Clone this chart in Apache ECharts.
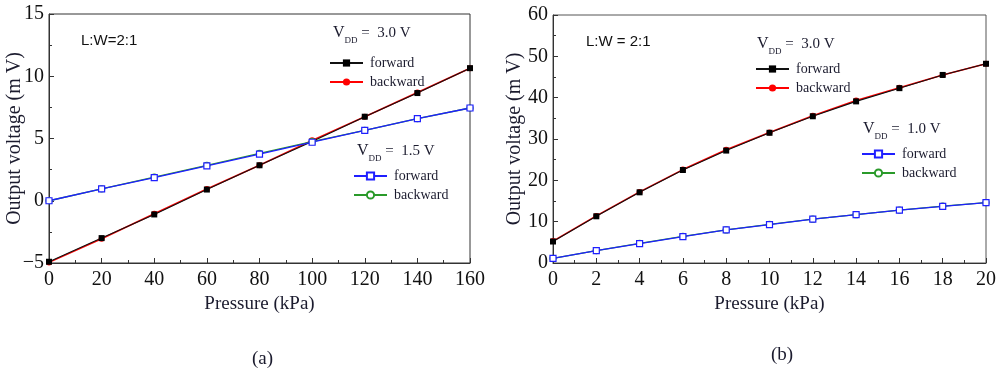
<!DOCTYPE html>
<html><head><meta charset="utf-8">
<script src="https://cdn.jsdelivr.net/npm/echarts@6/dist/echarts.min.js"></script>
<style>html,body{margin:0;padding:0;background:#fff}#c{width:1000px;height:374px}</style>
</head><body><div id="c"></div>
<script>
// ---- data ----
const xPressureA = [0, 20, 40, 60, 80, 100, 120, 140, 160];
const a30Forward = [-4.9, -3.0, -1.1, 0.9, 2.85, 4.75, 6.75, 8.65, 10.65];
const a30Backward = [-4.95, -3.05, -1.05, 0.95, 2.85, 4.85, 6.75, 8.7, 10.65];
const a15Forward = [0.0, 0.95, 1.85, 2.8, 3.75, 4.7, 5.65, 6.6, 7.45];
const a15Backward = [0.0, 0.95, 1.9, 2.85, 3.8, 4.75, 5.65, 6.6, 7.45];

const xPressureB = [0, 2, 4, 6, 8, 10, 12, 14, 16, 18, 20];
const b30Forward = [5.2, 11.3, 17.1, 22.5, 27.2, 31.5, 35.5, 39.1, 42.3, 45.5, 48.2];
const b30Backward = [5.3, 11.4, 17.2, 22.6, 27.4, 31.6, 35.6, 39.3, 42.4, 45.5, 48.2];
const b10Forward = [1.1, 3.0, 4.7, 6.4, 8.0, 9.3, 10.6, 11.7, 12.8, 13.7, 14.6];
const b10Backward = [1.1, 3.0, 4.75, 6.45, 8.0, 9.35, 10.6, 11.7, 12.8, 13.75, 14.6];

const legendLabels = ['forward', 'backward'];
const vddA = ['3.0 V', '1.5 V'];
const vddB = ['3.0 V', '1.0 V'];

// ---- build ----
const pairs = (xs, ys) => xs.map((x, i) => [x, ys[i]]);
const SERIF = 'Liberation Serif, Times New Roman, serif';
const SANS = 'Liberation Sans, Arial, sans-serif';
const TXT = '#1b1b2e';

function mk(name, xs, ys, gi, kind) {
  const st = {
    blackSq: {symbol: 'rect', size: 6, item: {color: '#000'}, line: {color: '#111', width: 1.1}},
    redCi: {symbol: 'circle', size: 6, item: {color: '#ff0000'}, line: {color: '#ff0000', width: 1.6}},
    blueSq: {symbol: 'rect', size: 6, item: {color: '#fff', borderColor: '#1f1fff', borderWidth: 1.2}, line: {color: '#1f1fff', width: 1.3}},
    greenCi: {symbol: 'circle', size: 6, item: {color: '#fff', borderColor: '#2a9a2a', borderWidth: 1.2}, line: {color: '#2a9a2a', width: 1.3}}
  }[kind];
  return {
    name, type: 'line', xAxisIndex: gi, yAxisIndex: gi,
    data: pairs(xs, ys), symbol: st.symbol, symbolSize: st.size,
    itemStyle: st.item, lineStyle: st.line, showSymbol: true, animation: false
  };
}

const series = [
  mk('backward|a30', xPressureA, a30Backward, 0, 'redCi'),
  mk('forward|a30', xPressureA, a30Forward, 0, 'blackSq'),
  mk('backward|a15', xPressureA, a15Backward, 0, 'greenCi'),
  mk('forward|a15', xPressureA, a15Forward, 0, 'blueSq'),
  mk('backward|b30', xPressureB, b30Backward, 1, 'redCi'),
  mk('forward|b30', xPressureB, b30Forward, 1, 'blackSq'),
  mk('backward|b10', xPressureB, b10Backward, 1, 'greenCi'),
  mk('forward|b10', xPressureB, b10Forward, 1, 'blueSq')
];

function legend(tag, left, top) {
  return {
    data: legendLabels.map(l => l + '|' + tag), orient: 'vertical', left, top,
    padding: 0, itemWidth: 33, itemHeight: 9, itemGap: 5,
    formatter: n => n.split('|')[0], selectedMode: false,
    textStyle: {fontFamily: SERIF, fontSize: 14, color: TXT, padding: [0, 0, 0, 2]}
  };
}

function vddText(x, y, val) {
  return {
    type: 'text', left: x, top: y,
    style: {
      text: '{v|V}{s|DD}{n| =  ' + val + '}',
      rich: {
        v: {fontFamily: SERIF, fontSize: 16, fill: TXT, lineHeight: 18, verticalAlign: 'bottom'},
        s: {fontFamily: SERIF, fontSize: 9, fill: TXT, lineHeight: 18, verticalAlign: 'bottom', padding: [0, 0, -4, 0]},
        n: {fontFamily: SERIF, fontSize: 15, fill: TXT, lineHeight: 18, verticalAlign: 'bottom'}
      }
    }
  };
}

function xAx(gi, max, interval) {
  return {
    type: 'value', gridIndex: gi, min: 0, max, interval,
    name: 'Pressure (kPa)', nameLocation: 'middle', nameGap: 30,
    nameTextStyle: {fontFamily: SERIF, fontSize: 19, color: TXT},
    axisLine: {show: true, onZero: false, lineStyle: {color: '#333', width: 1}},
    axisTick: {show: true, inside: true, length: 5, lineStyle: {color: '#333'}},
    minorTick: {show: true, splitNumber: 2, length: 3, lineStyle: {color: '#333'}},
    axisLabel: {fontFamily: SERIF, fontSize: 20, color: '#111', margin: 7},
    splitLine: {show: false}
  };
}
function yAx(gi, min, max, interval, gap) {
  return {
    type: 'value', gridIndex: gi, min, max, interval,
    name: 'Output voltage (m V)', nameLocation: 'middle', nameGap: gap, nameMoveOverlap: false,
    nameTextStyle: {fontFamily: SERIF, fontSize: 20, color: TXT},
    axisLine: {show: true, onZero: false, lineStyle: {color: '#333', width: 1}},
    axisTick: {show: true, inside: true, length: 5, lineStyle: {color: '#333'}},
    minorTick: {show: true, splitNumber: 2, length: 3, lineStyle: {color: '#333'}},
    axisLabel: {fontFamily: SERIF, fontSize: 20, color: '#111', margin: 5,
      formatter: v => String(v).replace('-', '\u2212')},
    splitLine: {show: false}
  };
}

const option = {
  backgroundColor: '#fff',
  animation: false,
  grid: [
    {left: 49, right: 530, top: 14, bottom: 111, show: true, borderColor: '#333', borderWidth: 1},
    {left: 553, right: 14, top: 15, bottom: 111, show: true, borderColor: '#555', borderWidth: 1}
  ],
  xAxis: [xAx(0, 160, 20), xAx(1, 20, 2)],
  yAxis: [yAx(0, -5, 15, 5, 24), yAx(1, 0, 60, 10, 28)],
  legend: [
    legend('a30', 329, 56), legend('a15', 353, 169),
    legend('b30', 755, 62), legend('b10', 861, 147)
  ],
  graphic: [
    vddText(333, 25, vddA[0]), vddText(357, 143, vddA[1]),
    vddText(757, 36, vddB[0]), vddText(863, 121, vddB[1]),
    {type: 'text', left: 81, top: 33, style: {text: 'L:W=2:1', fontFamily: SANS, fontSize: 15, fill: '#111'}},
    {type: 'text', left: 586, top: 34, style: {text: 'L:W = 2:1', fontFamily: SANS, fontSize: 15, fill: '#111'}},
    {type: 'text', left: 252, top: 350, style: {text: '(a)', fontFamily: SERIF, fontSize: 19, fill: TXT}},
    {type: 'text', left: 771, top: 346, style: {text: '(b)', fontFamily: SERIF, fontSize: 19, fill: TXT}}
  ],
  series
};
const chart = echarts.init(document.getElementById('c'), null, {renderer: 'canvas'});
chart.setOption(option);
</script>
</body></html>
